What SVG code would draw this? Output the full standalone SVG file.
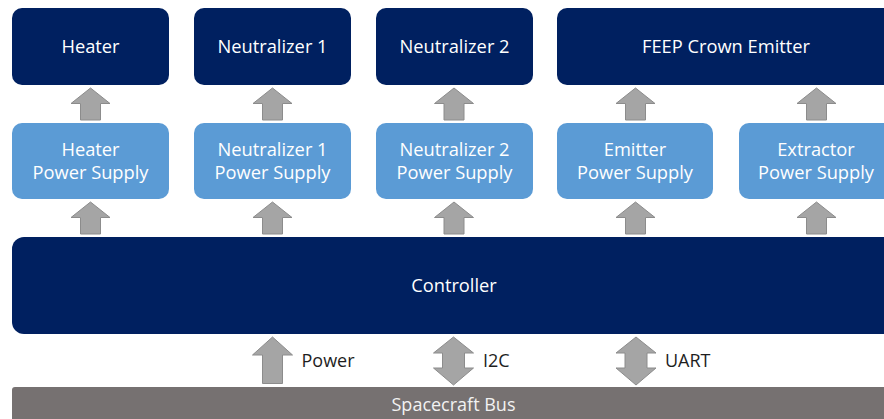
<svg xmlns="http://www.w3.org/2000/svg" xmlns:xlink="http://www.w3.org/1999/xlink" width="884" height="419" viewBox="0 0 884 419">
  <style>
    .dark { fill: #002060; }
    .light { fill: #5B9BD5; }
    .bus { fill: #767171; }
    .arrow { fill: #A5A5A5; stroke: #8C8C8C; stroke-width: 1; }
    .t { font-family: "Open Sans", "Liberation Sans", sans-serif; font-size: 18.3px; fill: #FFFFFF; text-anchor: middle; }
    .lbl { font-family: "Open Sans", "Liberation Sans", sans-serif; font-size: 18px; fill: #1E1E1E; }
  </style>
  <defs>
    <path id="up" d="M0,0 L19.5,15.5 L10,15.5 L10,32 L-10,32 L-10,15.5 L-19.5,15.5 Z"/>
    <path id="upBig" d="M0,0 L20,18 L10,18 L10,46.5 L-10,46.5 L-10,18 L-20,18 Z"/>
    <path id="dbl" d="M0,0 L20,16 L11,16 L11,31 L20,31 L0,48 L-20,31 L-11,31 L-11,16 L-20,16 Z"/>
  </defs>
  <rect width="884" height="419" fill="#FFFFFF"/>

  <g id="heater">
    <rect class="dark" x="12" y="8" width="157" height="77" rx="10"/>
    <text class="t" x="90.5" y="53">Heater</text>
  </g>
  <g id="neutralizer1">
    <rect class="dark" x="194" y="8" width="157" height="77" rx="10"/>
    <text class="t" x="272.5" y="53">Neutralizer 1</text>
  </g>
  <g id="neutralizer2">
    <rect class="dark" x="376" y="8" width="157" height="77" rx="10"/>
    <text class="t" x="454.5" y="53">Neutralizer 2</text>
  </g>
  <g id="feep">
    <rect class="dark" x="557" y="8" width="338" height="77" rx="10"/>
    <text class="t" x="726" y="53">FEEP Crown Emitter</text>
  </g>

  <g id="heater-ps">
    <rect class="light" x="12" y="123" width="157" height="76" rx="10"/>
    <text class="t" x="90.5" y="156">Heater</text>
    <text class="t" x="90.5" y="179">Power Supply</text>
  </g>
  <g id="neutralizer1-ps">
    <rect class="light" x="194" y="123" width="157" height="76" rx="10"/>
    <text class="t" x="272.5" y="156">Neutralizer 1</text>
    <text class="t" x="272.5" y="179">Power Supply</text>
  </g>
  <g id="neutralizer2-ps">
    <rect class="light" x="376" y="123" width="157" height="76" rx="10"/>
    <text class="t" x="454.5" y="156">Neutralizer 2</text>
    <text class="t" x="454.5" y="179">Power Supply</text>
  </g>
  <g id="emitter-ps">
    <rect class="light" x="557" y="123" width="156" height="76" rx="10"/>
    <text class="t" x="635" y="156">Emitter</text>
    <text class="t" x="635" y="179">Power Supply</text>
  </g>
  <g id="extractor-ps">
    <rect class="light" x="739" y="123" width="156" height="76" rx="10"/>
    <text class="t" x="816" y="156">Extractor</text>
    <text class="t" x="816" y="179">Power Supply</text>
  </g>

  <g id="controller">
    <rect class="dark" x="12" y="237" width="884" height="97" rx="12"/>
    <text class="t" x="454" y="292">Controller</text>
  </g>

  <g id="spacecraft-bus">
    <rect class="bus" x="12" y="387" width="884" height="45" rx="3"/>
    <text class="t" x="453.5" y="411" style="font-size:18px;fill:#F2F2F2">Spacecraft Bus</text>
  </g>

  <g id="connectors">
    <use class="arrow" xlink:href="#up" href="#up" transform="translate(90.5,88)"/>
    <use class="arrow" xlink:href="#up" href="#up" transform="translate(272.5,88)"/>
    <use class="arrow" xlink:href="#up" href="#up" transform="translate(454,88)"/>
    <use class="arrow" xlink:href="#up" href="#up" transform="translate(635.5,88)"/>
    <use class="arrow" xlink:href="#up" href="#up" transform="translate(816.5,88)"/>

    <use class="arrow" xlink:href="#up" href="#up" transform="translate(90.5,202)"/>
    <use class="arrow" xlink:href="#up" href="#up" transform="translate(272.5,202)"/>
    <use class="arrow" xlink:href="#up" href="#up" transform="translate(454,202)"/>
    <use class="arrow" xlink:href="#up" href="#up" transform="translate(635.5,202)"/>
    <use class="arrow" xlink:href="#up" href="#up" transform="translate(816.5,202)"/>

    <use class="arrow" xlink:href="#upBig" href="#upBig" transform="translate(272.5,337)"/>
    <use class="arrow" xlink:href="#dbl" href="#dbl" transform="translate(453.5,337)"/>
    <use class="arrow" xlink:href="#dbl" href="#dbl" transform="translate(636,337)"/>

    <text class="lbl" x="301.5" y="367">Power</text>
    <text class="lbl" x="483" y="367">I2C</text>
    <text class="lbl" x="665" y="367">UART</text>
  </g>
</svg>
